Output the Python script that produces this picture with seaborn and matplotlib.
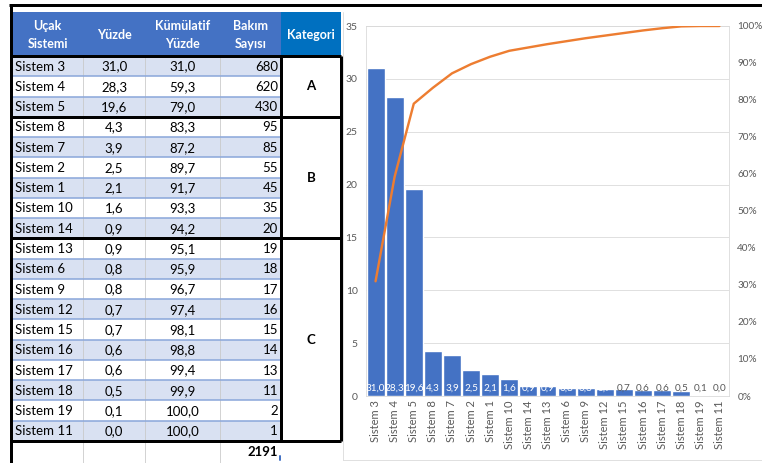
import numpy as np
import pandas as pd
import matplotlib
matplotlib.use("Agg")
import matplotlib.pyplot as plt
import seaborn as sns

# ---- data -------------------------------------------------------------
systems = ["Sistem 3", "Sistem 4", "Sistem 5", "Sistem 8", "Sistem 7", "Sistem 2",
           "Sistem 1", "Sistem 10", "Sistem 14", "Sistem 13", "Sistem 6", "Sistem 9",
           "Sistem 12", "Sistem 15", "Sistem 16", "Sistem 17", "Sistem 18",
           "Sistem 19", "Sistem 11"]
yuzde = [31.0, 28.3, 19.6, 4.3, 3.9, 2.5, 2.1, 1.6, 0.9, 0.9, 0.8, 0.8, 0.7,
         0.7, 0.6, 0.6, 0.5, 0.1, 0.0]
kumulatif = [31.0, 59.3, 79.0, 83.3, 87.2, 89.7, 91.7, 93.3, 94.2, 95.1, 95.9,
             96.7, 97.4, 98.1, 98.8, 99.4, 99.9, 100.0, 100.0]
bakim = [680, 620, 430, 95, 85, 55, 45, 35, 20, 19, 18, 17, 16, 15, 14, 13, 11, 2, 1]
kategori_names = ["A", "B", "C"]
kategori_sizes = [3, 6, 10]
toplam = 2191
headers = ["Uçak\nSistemi", "Yüzde", "Kümülatif\nYüzde", "Bakım\nSayısı", "Kategori"]

df = pd.DataFrame({"sistem": systems, "yuzde": yuzde,
                   "kumulatif": kumulatif, "bakim": bakim})

def fmt(v):
    return f"{v:.1f}".replace(".", ",")

sns.set_theme(style="white")
plt.rcParams["font.family"] = ["Lato", "DejaVu Sans"]

W, H = 762, 463
fig = plt.figure(figsize=(W / 100, H / 100), dpi=100)
fig.patch.set_facecolor("white")

# ---- table drawn in pixel coordinates ---------------------------------
bg = fig.add_axes([0, 0, 1, 1])
bg.set_xlim(0, W)
bg.set_ylim(H, 0)
bg.axis("off")

PX = 0.72  # points per pixel
col_x = [12, 83, 145, 220, 281, 341]
head_top, head_bot = 12, 56
row_h = (441 - head_bot) / len(systems)
light_blue = "#D9E1F2"
row_line = "#8EA9DB"
grid_gray = "#C8C8C8"

# header
bg.add_patch(plt.Rectangle((col_x[0], head_top), col_x[4] - col_x[0],
                           head_bot - head_top, color="#4472C4", lw=0))
bg.add_patch(plt.Rectangle((col_x[4], head_top), col_x[5] - col_x[4],
                           head_bot - head_top, color="#0070C0", lw=0))
for i, h in enumerate(headers):
    cx = (col_x[i] + col_x[i + 1]) / 2
    bg.text(cx, (head_top + head_bot) / 2 + 1, h, ha="center", va="center",
            color="white", fontsize=9, fontweight="bold", linespacing=1.55)

# body rows
for i in range(len(systems)):
    y0 = head_bot + i * row_h
    if i % 2 == 0:
        bg.add_patch(plt.Rectangle((col_x[0], y0), col_x[4] - col_x[0], row_h,
                                   color=light_blue, lw=0))
    if i > 0:
        bg.plot([col_x[0], col_x[4]], [y0, y0], color=row_line, lw=1.6 * PX)
    yc = y0 + row_h / 2 + 0.5
    bg.text(col_x[0] + 3, yc, systems[i], ha="left", va="center",
            fontsize=9.5, color="black")
    bg.text((col_x[1] + col_x[2]) / 2, yc, fmt(yuzde[i]), ha="center",
            va="center", fontsize=9.5, color="black")
    bg.text((col_x[2] + col_x[3]) / 2, yc, fmt(kumulatif[i]), ha="center",
            va="center", fontsize=9.5, color="black")
    bg.text(col_x[4] - 3, yc, str(bakim[i]), ha="right", va="center",
            fontsize=9.5, color="black")

# column separators
for x in col_x[1:4]:
    bg.plot([x, x], [head_bot, H], color=grid_gray, lw=0.8 * PX, zorder=1)

# total row
bg.text(col_x[4] - 3, 452, str(toplam), ha="right", va="center",
        fontsize=9.5, fontweight="bold", color="black")
bg.plot([col_x[4] - 1, col_x[4] - 1], [456, 460], color="#4472C4", lw=2 * PX)

# category blocks with thick borders
thick = 3 * PX
start = 0
for name, n in zip(kategori_names, kategori_sizes):
    y0 = head_bot + start * row_h
    y1 = head_bot + (start + n) * row_h
    bg.plot([col_x[0], col_x[5]], [y0, y0], color="black", lw=thick,
            solid_capstyle="butt", zorder=3)
    bg.plot([col_x[0], col_x[5]], [y1, y1], color="black", lw=thick,
            solid_capstyle="butt", zorder=3)
    bg.text((col_x[4] + col_x[5]) / 2, (y0 + y1) / 2, name, ha="center",
            va="center", fontsize=9.5, fontweight="bold", color="black")
    start += n
bot = head_bot + len(systems) * row_h
for x in (col_x[4], col_x[5]):
    bg.plot([x, x], [head_bot, bot], color="black", lw=thick,
            solid_capstyle="butt", zorder=3)
bg.plot([10.5, 10.5], [4, H], color="black", lw=thick, solid_capstyle="butt", zorder=3)
bg.plot([9, W], [4.5, 4.5], color="black", lw=thick, solid_capstyle="butt", zorder=3)

# chart area frame
bg.plot([342.5, 342.5], [12, 460], color="#D9D9D9", lw=0.8 * PX)
bg.plot([342.5, W], [460, 460], color="#D9D9D9", lw=0.8 * PX)

# ---- pareto chart -------------------------------------------------------
left, right, top, bottom = 366, 729, 26, 396
ax = fig.add_axes([left / W, (H - bottom) / H, (right - left) / W, (bottom - top) / H])
sns.barplot(data=df, x="sistem", y="yuzde", color="#4472C4", saturation=1,
            width=0.94, ax=ax, zorder=2)
ax.set_xlim(-0.5, len(systems) - 0.5)
ax.set_ylim(0, 35)
ax.set_yticks(range(0, 36, 5))
ax.yaxis.grid(True, color="#D9D9D9", lw=0.8 * PX, zorder=0)
ax.set_axisbelow(True)
ax.set_xlabel("")
ax.set_ylabel("")
for s in ax.spines.values():
    s.set_color("#D9D9D9")
    s.set_linewidth(0.8 * PX)
ax.tick_params(axis="y", length=0, pad=6, labelsize=7.5, labelcolor="#595959")
ax.tick_params(axis="x", length=0, pad=3, labelsize=8, labelcolor="#595959")
plt.setp(ax.get_xticklabels(), rotation=90, ha="center", va="top")

for i, v in enumerate(df["yuzde"]):
    c = "white" if i < 13 else "#595959"
    ax.text(i, 0.75, fmt(v), ha="center", va="center", fontsize=7.2,
            color=c, zorder=4)

ax2 = ax.twinx()
sns.lineplot(x=np.arange(len(systems)), y=df["kumulatif"], ax=ax2,
             color="#ED7D31", lw=2.4 * PX, zorder=5)
ax2.set_ylim(0, 100)
ax2.set_xlim(-0.5, len(systems) - 0.5)
ax2.set_yticks(range(0, 101, 10))
ax2.set_yticklabels([f"{t}%" for t in range(0, 101, 10)])
ax2.set_ylabel("")
ax2.tick_params(axis="y", length=0, pad=6, labelsize=7.2, labelcolor="#595959")
for s in ax2.spines.values():
    s.set_visible(False)

fig.savefig("out.png", dpi=100)
